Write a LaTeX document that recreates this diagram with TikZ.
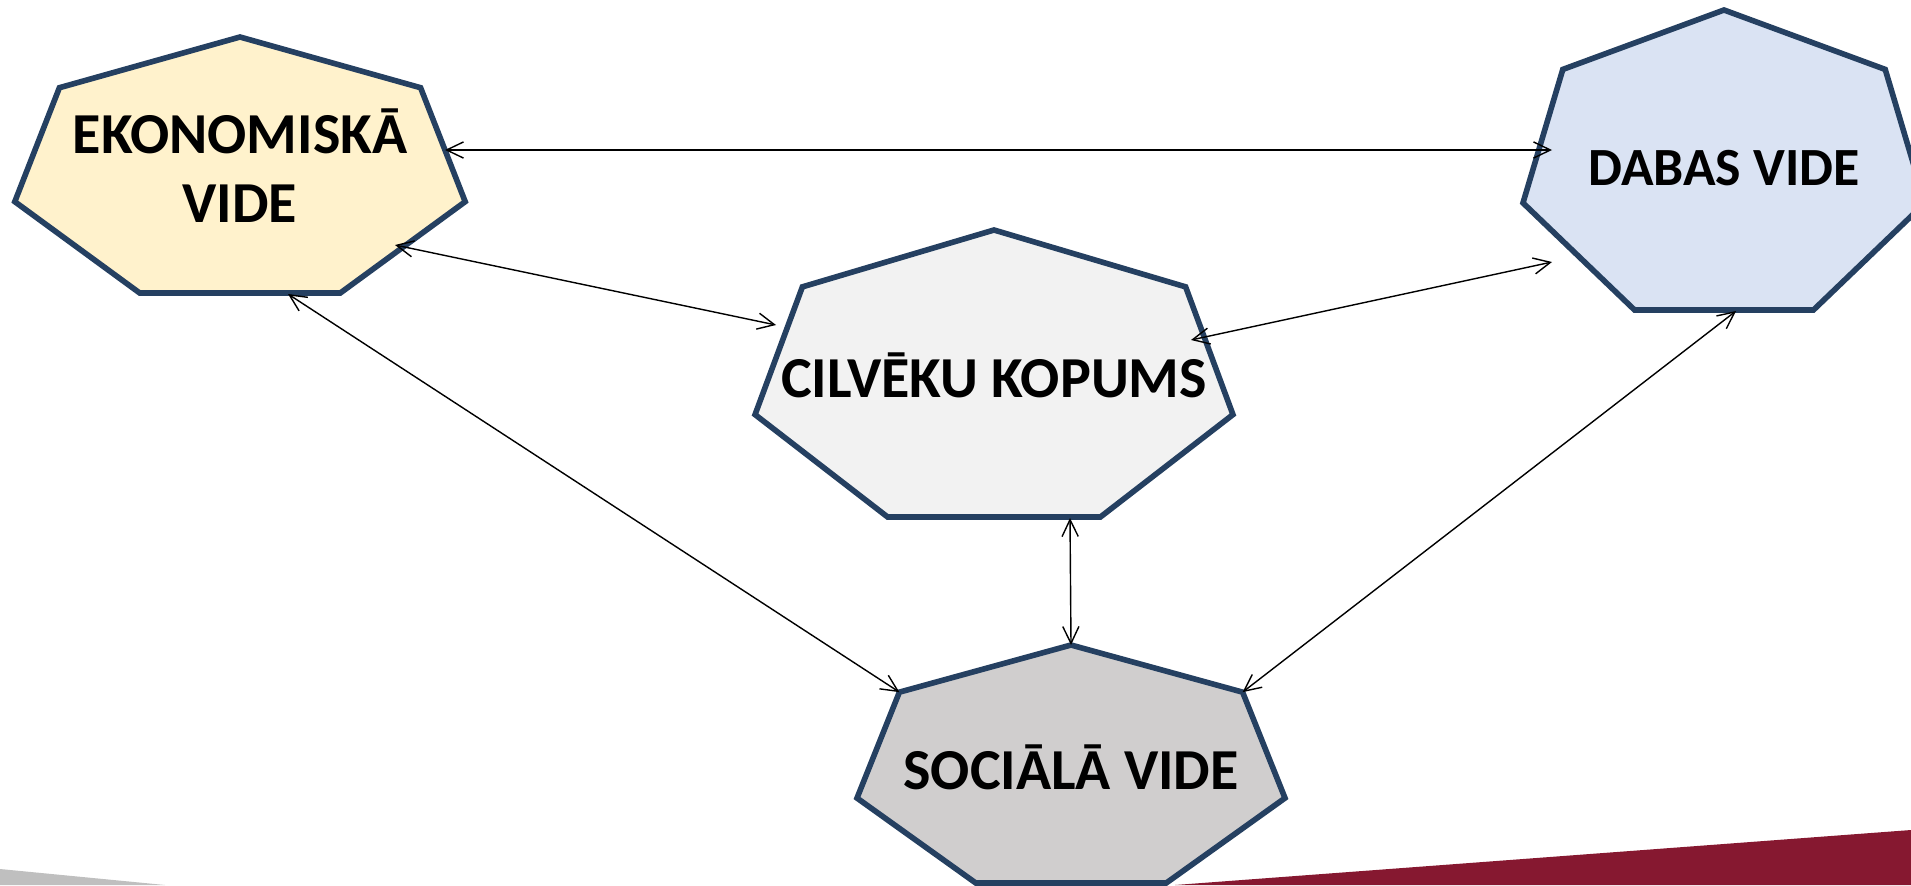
\documentclass[tikz,border=0pt]{standalone}
\usepackage{fontspec}
\setmainfont{Carlito}
\usetikzlibrary{calc,arrows.meta}

\definecolor{rams}{RGB}{37,64,97}
\definecolor{ekonfill}{RGB}{255,242,204}
\definecolor{dabasfill}{RGB}{218,227,243}
\definecolor{cilvfill}{RGB}{242,242,242}
\definecolor{socfill}{RGB}{208,206,206}
\definecolor{joslapel}{RGB}{191,191,191}
\definecolor{joslasark}{RGB}{134,24,48}

\tikzset{
  hept/.style={draw=rams, line width=1.6pt, line join=miter},
  vide/.style={font=\bfseries\fontsize{16.5}{19.8}\selectfont, align=center},
  saite/.style={thin, {Straight Barb[length=4.8pt,width=4.6pt]}-{Straight Barb[length=4.8pt,width=4.6pt]}},
}

% septinstūris: vārds, centrs, x rādiuss, y rādiuss, krāsa, teksts, teksta nobīde
\newcommand{\septst}[7]{
  \coordinate (#1-c) at #2;
  \foreach \k in {0,...,6}
    \coordinate (#1-\k) at ($(#1-c)+({90+\k*360/7}:#3 and #4)$);
  \filldraw[hept, fill=#5] (#1-0) \foreach \k in {1,...,6} {-- (#1-\k)} -- cycle;
  \node[vide] (#1) at ($(#1-c)+(0,#7)$) {#6};
}

\begin{document}
\begin{tikzpicture}
\useasboundingbox (0,0) rectangle (19.11,8.85);
\clip (0,0) rectangle (19.11,8.85);
\fill[joslapel] (0,0) -- (0,0.16) -- (1.65,0) -- cycle;
\fill[joslasark] (11.75,0) -- (19.11,0.55) -- (19.11,0) -- cycle;

\septst{ekon}{(2.40,7.133)}{2.31}{1.347}{ekonfill}{EKONOMISKĀ\\VIDE}{0.06}
\septst{dabas}{(17.24,7.172)}{2.062}{1.578}{dabasfill}{\fontsize{15.3}{18}\selectfont DABAS VIDE}{0}
\septst{cilv}{(9.94,5.04)}{2.451}{1.51}{cilvfill}{CILVĒKU KOPUMS}{0.06}
\septst{soc}{(10.71,1.148)}{2.195}{1.252}{socfill}{SOCIĀLĀ VIDE}{0.03}

\draw[saite] ($(ekon-c)+(2.05,0.217)$) -- ($(dabas-c)+(-1.72,0.178)$);
\draw[saite] ($(ekon-c)+(1.55,-0.733)$) -- ($(cilv-c)+(-2.18,0.56)$);
\draw[saite] ($(cilv-c)+(1.97,0.41)$) -- ($(dabas-c)+(-1.72,-0.942)$);
\draw[saite] ($(ekon-c)+(0.48,-1.223)$) -- (soc-1);
\draw[saite] ($(cilv-c)+(0.76,-1.37)$) -- (soc-0);
\draw[saite] ($(dabas-c)+(0.12,-1.432)$) -- (soc-6);
\end{tikzpicture}
\end{document}
